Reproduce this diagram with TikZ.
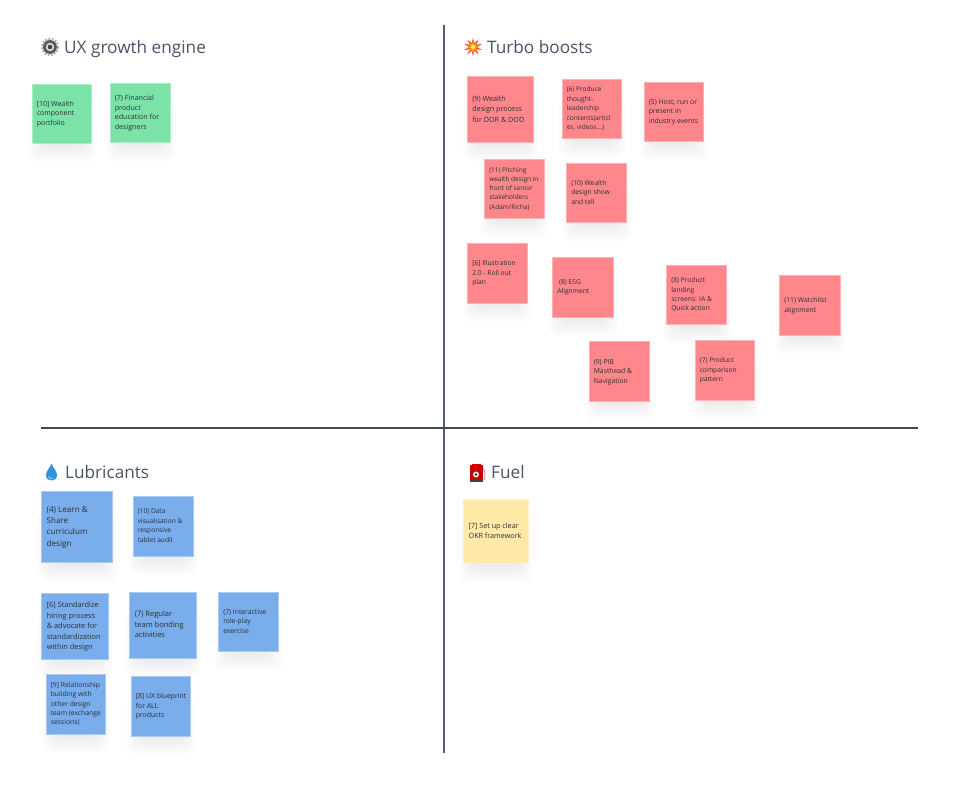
\documentclass[tikz,border=0pt]{standalone}
\usepackage{fontspec}
\setmainfont{Open Sans}
\usetikzlibrary{shapes.geometric,calc}
\definecolor{gr}{HTML}{7BE3A8}
\definecolor{rd}{HTML}{FF878B}
\definecolor{bl}{HTML}{7AADEB}
\definecolor{yl}{HTML}{FFE9A6}
\definecolor{ttl}{HTML}{4A5468}
\definecolor{inkc}{HTML}{2A2F38}
\tikzset{
  stickynote/.style={fill=#1,draw=#1!65!white,line width=.7pt,inner sep=0pt,text=inkc},
  titletext/.style={anchor=base west,inner sep=0pt,text=ttl,font=\fontsize{17.2}{20}\selectfont},
  vline/.style={draw=ttl!95!white,line width=1.9pt},
  hline/.style={draw=ttl!85!black,line width=1.4pt}
}
\newcommand{\stickynote}[9]{%
  \pgfmathsetmacro{\nw}{#4-#2-.4}\pgfmathsetmacro{\nh}{#5-#3-.4}%
  \pgfmathsetmacro{\tw}{\nw*0.847}%
  \foreach \i in {1,...,22}{
    \fill[black,opacity=.0042,rounded corners=8pt] (#2+14-\i*0.85,#3+20) rectangle (#4-14+\i*0.85,#5-2+\i*0.95);
  }
  \node[stickynote=#6,minimum width=\nw pt,minimum height=\nh pt,font=\fontsize{#7}{#8}\selectfont] (#1) at ({(#2+#4)/2},{(#3+#5)/2})
    {\makebox[\tw pt][l]{\begin{tabular}{@{}l@{}}#9\end{tabular}}};
}
\begin{document}
\begin{tikzpicture}[x=1pt,y=-1pt]
\useasboundingbox (0,0) rectangle (953,797);
\fill[white] (0,0) rectangle (953,797);
% axes
\coordinate (vt) at (444,25); \coordinate (vb) at (444,753);
\coordinate (hl) at (41,428); \coordinate (hr) at (918,428);
\draw[vline] (vt) -- (vb);
\draw[hline] (hl) -- (hr);
% titles
\node[titletext] (t1) at (64,54) {UX growth engine};
\node[titletext] (t2) at (487,54) {Turbo boosts};
\node[titletext] (t3) at (65,478) {Lubricants};
\node[titletext] (t4) at (491,478) {Fuel};
% gear icon
\fill[gray!70!black] (50,47) circle (7);
\draw[gray!65!white,line width=2pt,dash pattern=on 1.7pt off 1.6pt] (50,47) circle (8.1);
\fill[white!75!gray] (50,47) circle (4.2);
\fill[ttl!80!black] (50,47) circle (2.3);
% burst icon
\node[star,star points=10,star point ratio=2.3,fill=red!70!orange!75!white,minimum size=19pt,inner sep=0pt] (i2a) at (473,47) {};
\node[star,star points=8,star point ratio=2,fill=orange!70!yellow,minimum size=11pt,inner sep=0pt] (i2b) at (473,47) {};
\fill[yellow!50!white] (473,47) circle (2);
% droplet icon
\fill[cyan!70!blue!85!white] (51.5,463.5) .. controls (50,468) and (46,471) .. (46,475) .. controls (46,479) and (48.5,480.5) .. (51.5,480.5) .. controls (54.5,480.5) and (57,479) .. (57,475) .. controls (57,471) and (53,468) .. (51.5,463.5) -- cycle;
\fill[cyan!35!white] (48,476) .. controls (49,479) and (52,479.5) .. (54,478.5) .. controls (51.5,478.5) and (49.5,477.5) .. (48,476) -- cycle;
% fuel icon
\draw[gray!70,line width=.9pt] (482,468) .. controls (486,470) and (485,476) .. (484.5,480);
\fill[red!80!black] (470,465) rectangle (483,481);
\fill[red!85!black] (472,463.5) rectangle (481,466);
\fill[white!85!gray] (476,474.5) circle (3);
\fill[black!80] (476,474.5) circle (1.3);
\fill[black!75] (470,480) rectangle (483,482);
% green
\stickynote{g1}{32}{84}{92}{144}{gr}{7}{9.5}{[10] Wealth\\component\\portfolio}
\stickynote{g2}{110}{83}{171}{143}{gr}{7.1}{9.7}{(7) Financial\\product\\education for\\designers}
% red
\stickynote{r1}{467}{76}{534}{143}{rd}{7.2}{10.5}{(9) Wealth\\design process\\for DOR \& DOD}
\stickynote{r2}{562}{79}{622}{139}{rd}{6.6}{9.5}{(6) Produce\\thought-\\leadership\\contents(articl\\es, videos...)}
\stickynote{r3}{644}{82}{704}{142}{rd}{6.9}{9.2}{(5) Host, run or\\present in\\industry events}
\stickynote{r4}{484.5}{159}{544.5}{219}{rd}{6.5}{9.1}{(11) Pitching\\wealth design in\\front of senior\\stakeholders\\(Adam/Richa)}
\stickynote{r5}{566.5}{163}{627}{223}{rd}{6.7}{9.4}{(10) Wealth\\design show\\and tell}
\stickynote{r6}{467.5}{243.5}{528}{303.5}{rd}{6.7}{9.4}{[6] Illustration\\2.0 - Roll out\\plan}
\stickynote{r7}{552.5}{257}{614}{317.5}{rd}{6.7}{9.4}{\ (8) ESG\\Alignment}
\stickynote{r8}{666.5}{265}{726.5}{325}{rd}{6.7}{9.4}{(8) Product\\landing\\screens: IA \&\\Quick action}
\stickynote{r9}{779.5}{275.5}{840.5}{336}{rd}{6.8}{9.4}{(11) Watchlist\\alignment}
\stickynote{r10}{589}{341.5}{650}{402}{rd}{6.8}{9.4}{(9) PIB\\Masthead \&\\Navigation}
\stickynote{r11}{695}{340.5}{755}{400.5}{rd}{6.7}{9.4}{(7) Product\\comparison\\pattern}
% blue
\stickynote{b1}{41}{491}{113}{563}{bl}{8.1}{11.3}{(4) Learn \&\\Share\\curriculum\\design}
\stickynote{b2}{133}{496}{194}{556.5}{bl}{6.6}{9.5}{(10) Data\\visualisation \&\\responsive\\tablet audit}
\stickynote{b3}{41.5}{593}{108.5}{660}{bl}{7.4}{10.6}{[6] Standardize\\hiring process\\\& advocate for\\standardization\\within design}
\stickynote{b4}{129.5}{592}{196.5}{658.5}{bl}{7.5}{10.6}{(7) Regular\\team bonding\\activities}
\stickynote{b5}{218.5}{592}{278.5}{652}{bl}{6.8}{9.5}{(7) Interactive\\role-play\\exercise}
\stickynote{b6}{46}{674}{106}{734.5}{bl}{6.8}{9.2}{[9] Relationship\\building with\\other design\\team (exchange\\sessions)}
\stickynote{b7}{131}{676.5}{191}{736.5}{bl}{6.9}{9.4}{[8] UX blueprint\\for ALL\\products}
% yellow
\stickynote{y1}{463.5}{499}{528.5}{564}{yl}{7.2}{10}{[7] Set up clear\\OKR framework}
\end{tikzpicture}
\end{document}
